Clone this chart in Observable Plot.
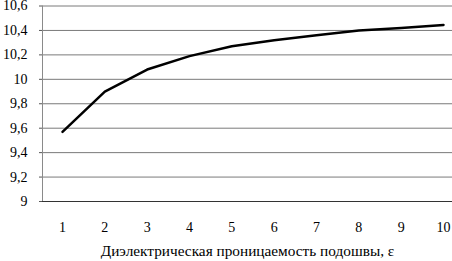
<!DOCTYPE html>
<html>
<head>
<meta charset="utf-8">
<script src="https://cdn.jsdelivr.net/npm/d3@7"></script>
<script src="https://cdn.jsdelivr.net/npm/@observablehq/plot@0.6"></script>
<style>
  html, body { margin: 0; padding: 0; background: #fff; }
  svg { display: block; }
</style>
</head>
<body>
<div id="chart"></div>
<script>
const epsilon = [1, 2, 3, 4, 5, 6, 7, 8, 9, 10];
const values = [9.57, 9.90, 10.08, 10.19, 10.27, 10.32, 10.36, 10.40, 10.42, 10.445];
const yTicks = [9, 9.2, 9.4, 9.6, 9.8, 10, 10.2, 10.4, 10.6];
const xLabel = "Диэлектрическая проницаемость подошвы, ε";

const data = epsilon.map((e, i) => ({e, v: values[i]}));
const fmt = d => String(Math.round(d * 10) / 10).replace(".", ",");

const chart = Plot.plot({
  width: 452,
  height: 261,
  marginLeft: 42,
  marginRight: 0,
  marginTop: 5.5,
  marginBottom: 60,
  style: {fontFamily: "Liberation Serif", fontSize: "14px", color: "#000", background: "#fff", overflow: "visible"},
  x: {domain: [0.5275, 10.2126]},
  y: {domain: [9, 10.6]},
  marks: [
    Plot.ruleY(yTicks.filter(d => d > 9), {stroke: "#7a7a7a", strokeWidth: 1, strokeOpacity: 1}),
    Plot.ruleX([0.5275], {stroke: "#8a8a8a", strokeWidth: 1}),
    Plot.ruleY([9], {stroke: "#333", strokeWidth: 1.2}),
    Plot.axisY({ticks: yTicks, tickFormat: fmt, tickSize: 3, tickPadding: 12, label: null, stroke: "#555", fontSize: 14}),
    Plot.axisX({ticks: epsilon, tickFormat: d => String(d), tickSize: 0, tickPadding: 21, label: null, fontSize: 14}),
    Plot.line(data, {x: "e", y: "v", stroke: "#000", strokeWidth: 2.5}),
    Plot.text([xLabel], {frameAnchor: "bottom", dy: 54, text: d => d, fontSize: 15.3, fill: "#000"})
  ]
});
chart.querySelectorAll("text").forEach(t => {
  t.setAttribute("font-family", "Liberation Serif");
  t.style.fontFamily = "Liberation Serif";
});
document.getElementById("chart").appendChild(chart);
</script>
</body>
</html>
